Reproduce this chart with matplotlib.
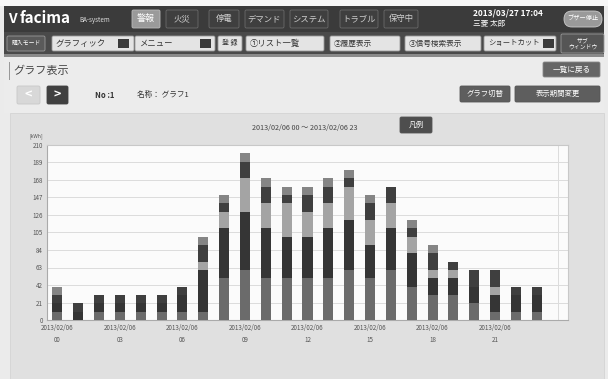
import matplotlib
matplotlib.use("Agg")
import matplotlib.pyplot as plt
from matplotlib.patches import Rectangle, FancyBboxPatch
import numpy as np

plt.rcParams['font.family'] = ['Noto Sans CJK JP', 'DejaVu Sans']

# === DATA ===
hours = list(range(24))
tick_hours = [0, 3, 6, 9, 12, 15, 18, 21]
tick_labels = ["2013/02/06\n%02d" % h for h in tick_hours]
y_ticks = [0, 21, 42, 63, 84, 105, 126, 147, 168, 189, 210]
seg1 = [10, 0, 10, 10, 10, 10, 10, 10, 50, 60, 50, 50, 50, 50, 60, 50, 60, 40, 30, 30, 20, 10, 10, 10]
seg2 = [10, 10, 10, 10, 10, 10, 20, 50, 60, 70, 60, 50, 50, 60, 60, 40, 50, 40, 20, 20, 20, 20, 20, 20]
seg3 = [0, 0, 0, 0, 0, 0, 0, 10, 20, 40, 30, 40, 30, 30, 40, 30, 30, 20, 10, 10, 0, 10, 0, 0]
seg4 = [10, 10, 10, 10, 10, 10, 10, 20, 10, 20, 20, 10, 20, 20, 10, 20, 20, 10, 20, 10, 20, 20, 10, 10]
seg5 = [10, 0, 0, 0, 0, 0, 0, 10, 10, 10, 10, 10, 10, 10, 10, 10, 0, 10, 10, 0, 0, 0, 0, 0]
seg_colors = ['#6b6b6b', '#353535', '#a4a4a4', '#3f3f3f', '#858585']

W, H = 608, 379
fig = plt.figure(figsize=(W / 100, H / 100), dpi=100, facecolor='#ebebeb')

# background axes in pixel coords for the UI chrome
bg = fig.add_axes([0, 0, 1, 1])
bg.set_xlim(0, W)
bg.set_ylim(H, 0)
bg.axis('off')


def box(x, y, w, h, fc, ec='none', lw=0.6, r=1.5):
    bg.add_patch(FancyBboxPatch((x, y), w, h, boxstyle="round,pad=0,rounding_size=%s" % r,
                                fc=fc, ec=ec, lw=lw))


def btn(x, y, w, h, text, fc, tc, fs=6, ec='#555555', ha='center', bold=False):
    box(x, y, w, h, fc, ec)
    tx = x + w / 2 if ha == 'center' else x + 4
    bg.text(tx, y + h / 2, text, ha=ha, va='center', color=tc, fontsize=fs,
            fontweight='bold' if bold else 'normal')


# top white strip + header rows
bg.add_patch(Rectangle((0, 0), W, 6, fc='#f7f7f7', ec='none'))
bg.add_patch(Rectangle((4, 6), W - 8, 26, fc='#3b3b3b', ec='none'))
bg.add_patch(Rectangle((4, 32), W - 8, 22, fc='#4a4a4a', ec='none'))
bg.add_patch(Rectangle((4, 54), W - 8, 3, fc='#8a8a8a', ec='none'))
bg.add_patch(Rectangle((4, 57), W - 8, 56, fc='#ececec', ec='none'))

bg.text(8, 19, "V", color='white', fontsize=10, fontweight='bold', va='center', style='italic')
bg.text(20, 18, "facima", color='white', fontsize=11, fontweight='bold', va='center', style='italic')
bg.text(79, 20, "BA-system", color='#dddddd', fontsize=4.5, va='center', style='italic')

btn(132, 10, 28, 18, "警報", '#9a9a9a', 'white', fs=6.5, ec='#bbbbbb')
for x, w, t in [(166, 32, "火災"), (209, 30, "停電"), (245, 39, "デマンド"),
                (290, 38, "システム"), (340, 38, "トラブル"), (384, 34, "保守中")]:
    btn(x, 10, w, 18, t, '#3f3f3f', '#d0d0d0', fs=6, ec='#6a6a6a')
bg.text(473, 13, "2013/03/27 17:04", color='white', fontsize=6, va='center', fontweight='bold')
bg.text(473, 24, "三菱 太郎", color='white', fontsize=5.5, va='center')
box(564, 11, 38, 16, '#9a9a9a', '#cccccc', r=8)
bg.text(583, 19, "ブザー停止", color='white', fontsize=4.5, ha='center', va='center')

btn(7, 36, 38, 15, "購入モード", '#5a5a5a', 'white', fs=4.2, ec='#999999')
btn(52, 36, 82, 15, "グラフィック", '#e4e4e4', '#333333', fs=6, ec='#999999', ha='left')
bg.add_patch(Rectangle((118, 39), 11, 9, fc='#3a3a3a'))
btn(135, 36, 80, 15, "メニュー", '#e4e4e4', '#333333', fs=6, ec='#999999', ha='left')
bg.add_patch(Rectangle((200, 39), 11, 9, fc='#3a3a3a'))
btn(218, 36, 24, 15, "登 録", '#e4e4e4', '#333333', fs=5, ec='#999999')
btn(246, 36, 78, 15, "①リスト一覧", '#e4e4e4', '#333333', fs=6, ec='#999999', ha='left')
btn(330, 36, 70, 15, "②履歴表示", '#e4e4e4', '#333333', fs=5.5, ec='#999999', ha='left')
btn(405, 36, 76, 15, "③信号検索表示", '#e4e4e4', '#333333', fs=5.5, ec='#999999', ha='left')
btn(484, 36, 72, 15, "ショートカット", '#e4e4e4', '#333333', fs=5.3, ec='#999999', ha='left')
bg.add_patch(Rectangle((543, 39), 11, 9, fc='#3a3a3a'))
btn(561, 34, 43, 19, "サブ\nウィンドウ", '#555555', 'white', fs=4.2, ec='#999999')

# page title row
bg.add_patch(Rectangle((9, 62), 1.2, 18, fc='#999999'))
bg.text(13, 71, "グラフ表示", color='#444444', fontsize=8, va='center')
btn(543, 62, 57, 15, "一覧に戻る", '#666666', 'white', fs=5.5, ec='#888888')

# nav row
box(17, 86, 23, 18, '#d8d8d8', '#c8c8c8')
bg.text(28.5, 95, "<", color='white', fontsize=9, ha='center', va='center', fontweight='bold')
box(47, 86, 21, 18, '#404040', '#404040')
bg.text(57.5, 95, ">", color='white', fontsize=9, ha='center', va='center', fontweight='bold')
bg.text(95, 95, "No :1", color='#333333', fontsize=5.5, va='center', fontweight='bold')
bg.text(137, 95, "名称： グラフ1", color='#333333', fontsize=5.5, va='center')
btn(460, 86, 50, 16, "グラフ切替", '#5e5e5e', 'white', fs=5.3)
btn(515, 86, 85, 16, "表示期間変更", '#5e5e5e', 'white', fs=5.3)

# chart panel
bg.add_patch(Rectangle((10, 113), 594, 266, fc='#e0e0e0', ec='#d4d4d4', lw=0.6))
bg.text(305, 128, "2013/02/06 00 ～ 2013/02/06 23", color='#444444', fontsize=5.2,
        ha='center', va='center')
btn(400, 117, 32, 16, "凡例", '#4e4e4e', 'white', fs=5.5)
bg.text(29, 136.5, "[kWh]", color='#555555', fontsize=3.6, va='center')

# === BAR CHART ===
ax = fig.add_axes([47 / W, (H - 320) / H, (568 - 47) / W, (320 - 145) / H])
ax.set_facecolor('#fbfbfb')
bottom = np.zeros(len(hours))
for vals, col in zip([seg1, seg2, seg3, seg4, seg5], seg_colors):
    ax.bar(hours, vals, width=0.48, bottom=bottom, color=col, zorder=3)
    bottom += np.array(vals)

ax.set_xlim(-0.5, 24.5)
ax.set_ylim(0, 210)
ax.set_yticks(y_ticks)
ax.set_yticklabels([str(v) for v in y_ticks])
ax.set_xticks(tick_hours)
ax.set_xticklabels(tick_labels, linespacing=1.6)
ax.set_xticks(list(range(0, 25, 3)), minor=True)
ax.grid(True, which='major', axis='y', color='#dcdcdc', lw=0.7, zorder=0)
ax.grid(True, which='minor', axis='x', color='#dcdcdc', lw=0.7, zorder=0)
ax.tick_params(axis='both', length=0, labelsize=4.5, labelcolor='#555555', pad=3)
ax.tick_params(which='minor', length=0)
for s in ax.spines.values():
    s.set_color('#c8c8c8')
    s.set_linewidth(0.8)
ax.spines['bottom'].set_color('#aaaaaa')
ax.spines['left'].set_color('#aaaaaa')

fig.savefig("out.png", dpi=100, facecolor=fig.get_facecolor())
